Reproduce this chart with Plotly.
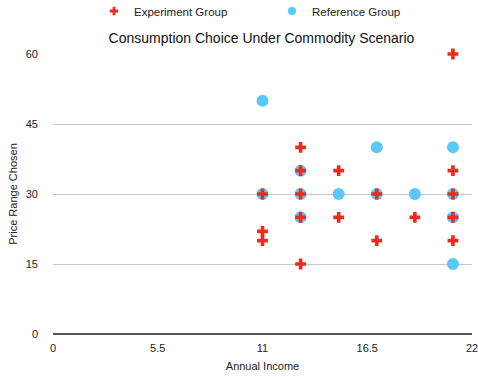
import plotly.graph_objects as go

# Experiment group observations (income, price range)
exp_income = [11, 11, 11, 13, 13, 13, 13, 13, 15, 15, 17, 17, 19, 21, 21, 21, 21, 21]
exp_price = [30, 22, 20, 40, 35, 30, 25, 15, 35, 25, 30, 20, 25, 60, 35, 30, 25, 20]

# Reference group observations
ref_income = [11, 11, 13, 13, 13, 15, 17, 17, 19, 21, 21, 21, 21]
ref_price = [50, 30, 35, 30, 25, 30, 40, 30, 30, 40, 30, 25, 15]

x_ticks = [0, 5.5, 11, 16.5, 22]
y_ticks = [0, 15, 30, 45, 60]

RED = "#ec2a1e"
BLUE = "#5ac8fa"

fig = go.Figure()
fig.add_trace(go.Scatter(
    x=ref_income, y=ref_price, mode="markers", name="Reference Group",
    marker=dict(symbol="circle", size=12, color=BLUE, line=dict(width=0)),
    showlegend=False, cliponaxis=False,
))
fig.add_trace(go.Scatter(
    x=exp_income, y=exp_price, mode="markers", name="Experiment Group",
    marker=dict(symbol="cross", size=9, color=RED, line=dict(width=0)),
    showlegend=False, cliponaxis=False,
))
# Legend entries with smaller keys than the plotted markers
fig.add_trace(go.Scatter(
    x=[None], y=[None], mode="markers", name="Experiment Group",
    marker=dict(symbol="cross", size=7, color=RED, line=dict(width=0)),
))
fig.add_trace(go.Scatter(
    x=[None], y=[None], mode="markers", name="Reference Group",
    marker=dict(symbol="circle", size=8, color=BLUE, line=dict(width=0)),
))

font = "Liberation Sans, Arial, Helvetica, sans-serif"
fig.update_layout(
    width=478, height=377,
    margin=dict(l=53, r=6, t=54, b=43, autoexpand=False),
    paper_bgcolor="white", plot_bgcolor="white",
    font=dict(family=font, size=11, color="#222"),
    title=dict(text="Consumption Choice Under Commodity Scenario",
               x=(108 + 415) / 2 / 478, xanchor="center",
               y=1 - 38 / 377, yanchor="middle",
               font=dict(size=14, color="#111")),
    legend=dict(orientation="h", xref="container", yref="container",
                x=272 / 478, xanchor="center", y=1 - 11 / 377,
                yanchor="middle", font=dict(size=11.5, color="#222"),
                itemwidth=30, entrywidth=133),
)
fig.update_xaxes(
    range=[0, 22.0001], tickvals=x_ticks, ticktext=[str(t) for t in x_ticks],
    showgrid=False, zeroline=False, showline=False,
    title=dict(text="Annual Income", font=dict(size=11), standoff=9),
    ticks="", ticklabelstandoff=6, ticklabeloverflow="allow",
)
fig.update_yaxes(
    range=[0, 60], tickvals=y_ticks, showgrid=True, gridcolor="#c8c8c8",
    gridwidth=1, zeroline=True, zerolinecolor="#555", zerolinewidth=1.5,
    showline=False, ticks="", ticklabelstandoff=14,
    title=dict(text="Price Range Chosen", font=dict(size=11), standoff=5),
)
fig.write_html("out.html")
